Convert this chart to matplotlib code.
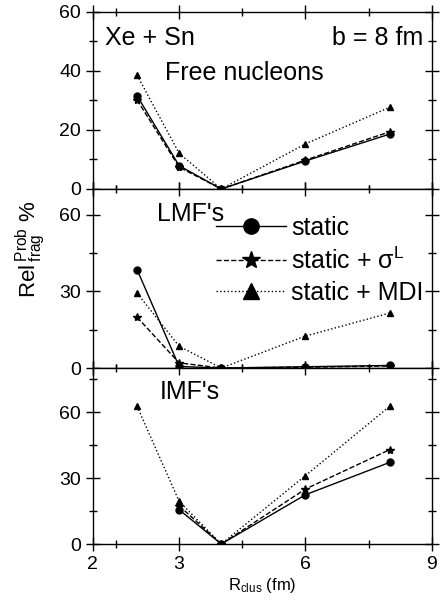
import numpy as np
import matplotlib
matplotlib.use('Agg')
import matplotlib.pyplot as plt
from matplotlib.ticker import FixedLocator

plt.rcParams['font.family'] = ['Liberation Sans', 'DejaVu Sans']
plt.rcParams['mathtext.fontset'] = 'custom'
plt.rcParams['mathtext.rm'] = 'Liberation Sans'
plt.rcParams['mathtext.it'] = 'Liberation Sans:italic'

# R_clus (fm)
r_clus = [2, 3, 4, 6, 8]

# Free nucleons
free_static = [31.6, 7.9, 0.0, 9.5, 18.6]
free_sigma = [30.2, 7.4, 0.0, 9.8, 19.4]
free_mdi = [38.6, 12.1, 0.0, 15.3, 27.7]

# LMF's
lmf_static = [38.5, 0.6, 0.0, 0.5, 1.0]
lmf_sigma = [19.9, 2.0, 0.0, 0.3, 0.8]
lmf_mdi = [29.3, 8.5, 0.0, 12.5, 21.5]

# IMF's
imf_static = [np.nan, 15.6, 0.0, 22.4, 37.1]
imf_sigma = [np.nan, 17.4, 0.0, 25.0, 42.9]
imf_mdi = [62.6, 19.4, 0.0, 31.1, 62.6]

x_tick_pos = [0.95, 3, 6, 9]
x_tick_labels = ['2', '3', '6', '9']

fig = plt.figure(figsize=(4.42, 6.03), dpi=100)
left, width = 0.210, 0.767
ax1 = fig.add_axes([left, 0.6866, width, 0.2935])
ax2 = fig.add_axes([left, 0.3897, width, 0.2969])
ax3 = fig.add_axes([left, 0.0978, width, 0.2919])

panels = [
    (ax1, free_static, free_sigma, free_mdi, 60, [0, 20, 40, 60], [10, 30, 50]),
    (ax2, lmf_static, lmf_sigma, lmf_mdi, 70, [0, 30, 60], [15, 45]),
    (ax3, imf_static, imf_sigma, imf_mdi, 80, [0, 30, 60], [15, 45, 75]),
]

for ax, s, sg, m, ytop, yt, ymt in panels:
    ax.plot(r_clus, s, '-', color='black', lw=1.0, marker='o', ms=5,
            label='static')
    ax.plot(r_clus, sg, '--', color='black', lw=1.0, marker='*', ms=6,
            label='static + σ$^{\\rm L}$')
    ax.plot(r_clus, m, ':', color='black', lw=1.0, marker='^', ms=5,
            label='static + MDI')
    ax.set_xlim(0.95, 9)
    ax.set_ylim(0, ytop)
    ax.set_xticks(x_tick_pos)
    ax.xaxis.set_minor_locator(FixedLocator([1.5, 4.5, 7.5]))
    ax.set_yticks(yt)
    ax.yaxis.set_minor_locator(FixedLocator(ymt))
    ax.tick_params(which='both', direction='inout', top=True, right=True,
                   labelsize=14, width=1.0, color='black')
    ax.tick_params(which='major', length=10)
    ax.tick_params(which='minor', length=6)
    for sp in ax.spines.values():
        sp.set_linewidth(1.0)

ax1.tick_params(labelbottom=False)
ax2.tick_params(labelbottom=False)
ax3.set_xticklabels(x_tick_labels)

ax1.text(0.035, 0.92, 'Xe + Sn', transform=ax1.transAxes, fontsize=18,
         ha='left', va='top')
ax1.text(0.975, 0.92, 'b = 8 fm', transform=ax1.transAxes, fontsize=18,
         ha='right', va='top')
ax1.text(0.212, 0.725, 'Free nucleons', transform=ax1.transAxes, fontsize=18,
         ha='left', va='top')
ax2.text(0.19, 0.93, "LMF's", transform=ax2.transAxes, fontsize=18,
         ha='left', va='top')
ax3.text(0.198, 0.93, "IMF's", transform=ax3.transAxes, fontsize=18,
         ha='left', va='top')

ax2.legend(loc='upper right', bbox_to_anchor=(0.975, 0.85), frameon=False,
           fontsize=18, handlelength=2.8, markerscale=2.2, handletextpad=0.2,
           labelspacing=0.3, borderaxespad=0.0, borderpad=0.0)

fig.text(0.068, 0.587, r'Rel$\,^{\rm Prob}_{\rm frag}$ %', rotation=90,
         fontsize=16, ha='center', va='center')
ax3.set_xlabel(r'R$_{\rm clus}$ (fm)', fontsize=12, labelpad=2)

fig.savefig('out.png', dpi=100)
